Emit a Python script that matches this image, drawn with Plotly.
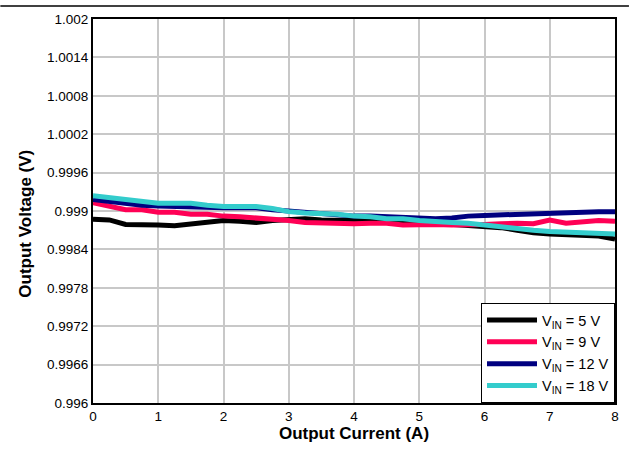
import plotly.graph_objects as go

current = [i * 0.25 for i in range(33)]

v_5 = [0.99887, 0.99886, 0.99879, 0.99879, 0.99878, 0.99877, 0.99880, 0.99883, 0.99885, 0.99884, 0.99882, 0.99885, 0.99887, 0.99888, 0.99886, 0.99886, 0.99885, 0.99885, 0.99884, 0.99882, 0.99881, 0.99881, 0.99879, 0.99878, 0.99875, 0.99874, 0.99870, 0.99866, 0.99864, 0.99863, 0.99862, 0.99861, 0.99856]
v_9 = [0.99913, 0.99907, 0.99902, 0.99902, 0.99898, 0.99898, 0.99895, 0.99895, 0.99892, 0.99891, 0.99889, 0.99888, 0.99885, 0.99882, 0.99881, 0.99880, 0.99880, 0.99881, 0.99881, 0.99878, 0.99879, 0.99879, 0.99878, 0.99878, 0.99879, 0.99880, 0.99881, 0.99880, 0.99886, 0.99881, 0.99883, 0.99885, 0.99884]
v_12 = [0.99918, 0.99915, 0.99912, 0.99909, 0.99908, 0.99907, 0.99906, 0.99905, 0.99905, 0.99905, 0.99905, 0.99902, 0.99900, 0.99898, 0.99895, 0.99894, 0.99892, 0.99892, 0.99891, 0.99890, 0.99888, 0.99888, 0.99889, 0.99892, 0.99893, 0.99894, 0.99895, 0.99895, 0.99896, 0.99897, 0.99898, 0.99899, 0.99899]
v_18 = [0.99924, 0.99921, 0.99919, 0.99915, 0.99912, 0.99912, 0.99912, 0.99909, 0.99907, 0.99907, 0.99907, 0.99904, 0.99899, 0.99897, 0.99896, 0.99895, 0.99892, 0.99891, 0.99888, 0.99888, 0.99885, 0.99883, 0.99882, 0.99881, 0.99878, 0.99875, 0.99873, 0.99870, 0.99868, 0.99867, 0.99866, 0.99865, 0.99864]

series_names = ["V<sub>IN</sub> = 5 V", "V<sub>IN</sub> = 9 V", "V<sub>IN</sub> = 12 V", "V<sub>IN</sub> = 18 V"]
series_colors = ["#000000", "#ff0055", "#000080", "#33cccc"]

y_ticks = [0.996, 0.9966, 0.9972, 0.9978, 0.9984, 0.999, 0.9996, 1.0002, 1.0008, 1.0014, 1.002]
y_tick_text = ["0.996", "0.9966", "0.9972", "0.9978", "0.9984", "0.999", "0.9996", "1.0002", "1.0008", "1.0014", "1.002"]
x_ticks = [0, 1, 2, 3, 4, 5, 6, 7, 8]

fig = go.Figure()
for vals, name, col in zip([v_5, v_9, v_12, v_18], series_names, series_colors):
    fig.add_trace(go.Scatter(x=current, y=vals, mode="lines", name=name,
                             line=dict(color=col, width=5)))

font = "Liberation Sans, Arial, sans-serif"
fig.update_layout(
    width=631, height=450,
    margin=dict(l=93, r=14, t=18, b=45),
    paper_bgcolor="white", plot_bgcolor="white",
    font=dict(family=font, size=13.5, color="black"),
    showlegend=True,
    legend=dict(x=1, y=0, xanchor="right", yanchor="bottom",
                bordercolor="black", borderwidth=1, bgcolor="white",
                font=dict(size=14.5), tracegroupgap=0, itemwidth=50),
    xaxis=dict(range=[0, 8], tickvals=x_ticks, showgrid=True, gridcolor="#c8c8c8",
               gridwidth=1.5, showline=True, linecolor="black", linewidth=2, mirror=True,
               ticks="", zeroline=False,
               title=dict(text="<b>Output Current (A)</b>", font=dict(size=17), standoff=2)),
    yaxis=dict(range=[0.996, 1.002], tickvals=y_ticks, ticktext=y_tick_text,
               showgrid=True, gridcolor="#c8c8c8", gridwidth=1.5,
               showline=True, linecolor="black", linewidth=2, mirror=True,
               ticks="", zeroline=False),
)

fig.add_annotation(text="<b>Output Voltage (V)</b>", xref="paper", yref="paper",
                   x=(25 - 93) / 524, y=(405 - 224) / 387, textangle=-90,
                   showarrow=False, font=dict(size=17), xanchor="center", yanchor="middle")

fig.add_shape(type="line", xref="paper", yref="paper",
              x0=-93 / 524, x1=(631 - 93) / 524, y0=1 + 13 / 387, y1=1 + 13 / 387,
              line=dict(color="black", width=1.5))

fig.write_html("out.html", config={"displayModeBar": False},
               post_script="document.body.style.margin='0px';")
